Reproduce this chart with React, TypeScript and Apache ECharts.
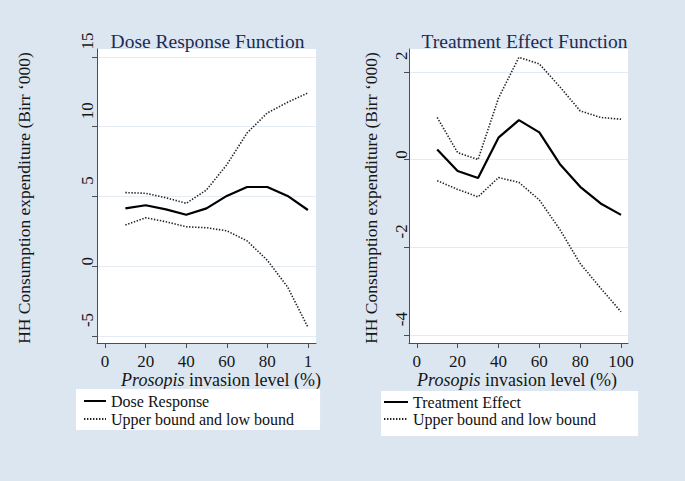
import React, { useEffect, useRef } from "react";
import * as echarts from "echarts";

// ---- data ----
const invasionLevels = [10, 20, 30, 40, 50, 60, 70, 80, 90, 100];

const doseResponse = [4.15, 4.37, 4.08, 3.69, 4.15, 5.04, 5.68, 5.68, 5.04, 4.03];
const doseUpper = [5.28, 5.23, 4.91, 4.51, 5.47, 7.27, 9.55, 10.99, 11.75, 12.42];
const doseLower = [2.95, 3.48, 3.19, 2.83, 2.76, 2.54, 1.82, 0.43, -1.49, -4.37];

const treatEffect = [0.23, -0.26, -0.42, 0.5, 0.9, 0.62, -0.1, -0.62, -1.0, -1.26];
const treatUpper = [0.96, 0.16, 0.0, 1.4, 2.33, 2.18, 1.66, 1.11, 0.96, 0.92];
const treatLower = [-0.48, -0.68, -0.85, -0.41, -0.52, -0.92, -1.59, -2.37, -2.93, -3.47];

const xTicks = [0, 20, 40, 60, 80, 100];
const doseXTickLabels = ["0", "20", "40", "60", "80", "1"];
const treatXTickLabels = ["0", "20", "40", "60", "80", "100"];
const doseYTicks = [-5, 0, 5, 10, 15];
const treatYTicks = [-4, -2, 0, 2];

const titles = ["Dose Response Function", "Treatment Effect Function"];
const yTitle = "HH Consumption expenditure (Birr \u2018000)";
const xTitle = "{i|Prosopis} invasion level (%)";
const boundName = "Upper bound and low bound";

const FONT = '"Liberation Serif", "Times New Roman", serif';

export default function App() {
  const ref = useRef<HTMLDivElement>(null);

  useEffect(() => {
    const chart = echarts.init(ref.current!, null, { renderer: "svg" });
    const pairs = (ys: number[]) => invasionLevels.map((x, i) => [x, ys[i]]);

    const axisLine = { show: true, onZero: false, lineStyle: { color: "#4d4d4d", width: 1 } };
    const labelBase = { fontFamily: FONT, fontSize: 17, color: "#161616" };

    const xAxisCfg = (gridIndex: number, min: number, max: number, labels: string[]) => ({
      type: "value",
      gridIndex,
      min,
      max,
      axisLine,
      axisTick: { show: true, length: 5, lineStyle: { color: "#4d4d4d" }, customValues: xTicks },
      axisLabel: {
        ...labelBase,
        lineHeight: 13,
        margin: 12,
        customValues: xTicks,
        formatter: (v: number) => labels[xTicks.indexOf(v)] ?? String(v),
      },
      splitLine: { show: false },
    });

    const yAxisCfg = (gridIndex: number, min: number, max: number, ticks: number[], margin: number) => ({
      type: "value",
      gridIndex,
      min,
      max,
      axisLine,
      axisTick: { show: true, length: 5, lineStyle: { color: "#4d4d4d" }, customValues: ticks },
      axisLabel: {
        ...labelBase,
        rotate: 90,
        margin,
        customValues: ticks,
        formatter: (v: number) => (v === 0 ? `{z|${v}}` : `{n|${v}}`),
        rich: {
          n: { ...labelBase, padding: [0, 0, 0, 32] },
          z: { ...labelBase, padding: [0, 0, 0, 10] },
        },
      },
      splitLine: { show: true, lineStyle: { color: "#e4ebf3", width: 1 } },
    });

    const solid = { color: "#000", width: 2.2, type: "solid" };
    const dotted = { color: "#222", width: 1.6, type: [1.4, 1.6] };
    const line = (name: string, xi: number, data: number[], style: any) => ({
      type: "line",
      name,
      xAxisIndex: xi,
      yAxisIndex: xi,
      data: pairs(data),
      symbol: "none",
      lineStyle: style,
      itemStyle: { color: style.color },
      silent: true,
    });

    const legendBase = {
      orient: "vertical",
      backgroundColor: "#ffffff",
      itemHeight: 14,
      selectedMode: false,
      itemStyle: { opacity: 0, borderWidth: 0 },
      textStyle: { fontFamily: FONT, fontSize: 16, color: "#111" },
    };

    const titleStyle = { fontFamily: FONT, fontSize: 19.5, fill: "#1d2b55", align: "center", verticalAlign: "middle" };
    const yTitleStyle = { text: yTitle, fontFamily: FONT, fontSize: 17.5, fill: "#161616", align: "center", verticalAlign: "middle" };
    const xTitleStyle = {
      text: xTitle,
      fontFamily: FONT,
      fontSize: 18,
      lineHeight: 14,
      fill: "#161616",
      align: "center",
      verticalAlign: "middle",
      rich: { i: { fontFamily: FONT, fontSize: 18, lineHeight: 14, fontStyle: "italic", fill: "#161616" } },
    };

    chart.setOption({
      animation: false,
      backgroundColor: "#dce6f1",
      grid: [
        { left: 97, top: 49, width: 219, height: 294, show: true, backgroundColor: "#ffffff", borderWidth: 0 },
        { left: 409, top: 49, width: 219, height: 294, show: true, backgroundColor: "#ffffff", borderWidth: 0 },
      ],
      xAxis: [xAxisCfg(0, -4, 104, doseXTickLabels), xAxisCfg(1, -3.8, 103.4, treatXTickLabels)],
      yAxis: [yAxisCfg(0, -5.5, 15.57, doseYTicks, 1), yAxisCfg(1, -4.18, 2.52, treatYTicks, -1)],
      legend: [
        {
          ...legendBase,
          left: 76,
          top: 389,
          padding: [4, 26, 3, 7],
          itemGap: 2,
          itemWidth: 22,
          data: ["Dose Response", boundName],
        },
        {
          ...legendBase,
          left: 381,
          top: 391,
          padding: [3, 42, 9, 2],
          itemGap: 1,
          itemWidth: 24,
          data: ["Treatment Effect", boundName],
        },
      ],
      graphic: [
        { type: "text", x: 207.5, y: 41, style: { ...titleStyle, text: titles[0] } },
        { type: "text", x: 524.5, y: 41, style: { ...titleStyle, text: titles[1] } },
        { type: "text", x: 24, y: 198, rotation: Math.PI / 2, style: yTitleStyle },
        { type: "text", x: 371, y: 198, rotation: Math.PI / 2, style: yTitleStyle },
        { type: "text", x: 221, y: 379.5, style: xTitleStyle },
        { type: "text", x: 517, y: 379.5, style: xTitleStyle },
      ],
      series: [
        line("Dose Response", 0, doseResponse, solid),
        line(boundName, 0, doseUpper, dotted),
        line(boundName, 0, doseLower, dotted),
        line("Treatment Effect", 1, treatEffect, solid),
        line(boundName, 1, treatUpper, dotted),
        line(boundName, 1, treatLower, dotted),
      ],
    });

    return () => chart.dispose();
  }, []);

  return (
    <div
      ref={ref}
      style={{ position: "absolute", left: 0, top: 0, width: 685, height: 481 }}
    />
  );
}
